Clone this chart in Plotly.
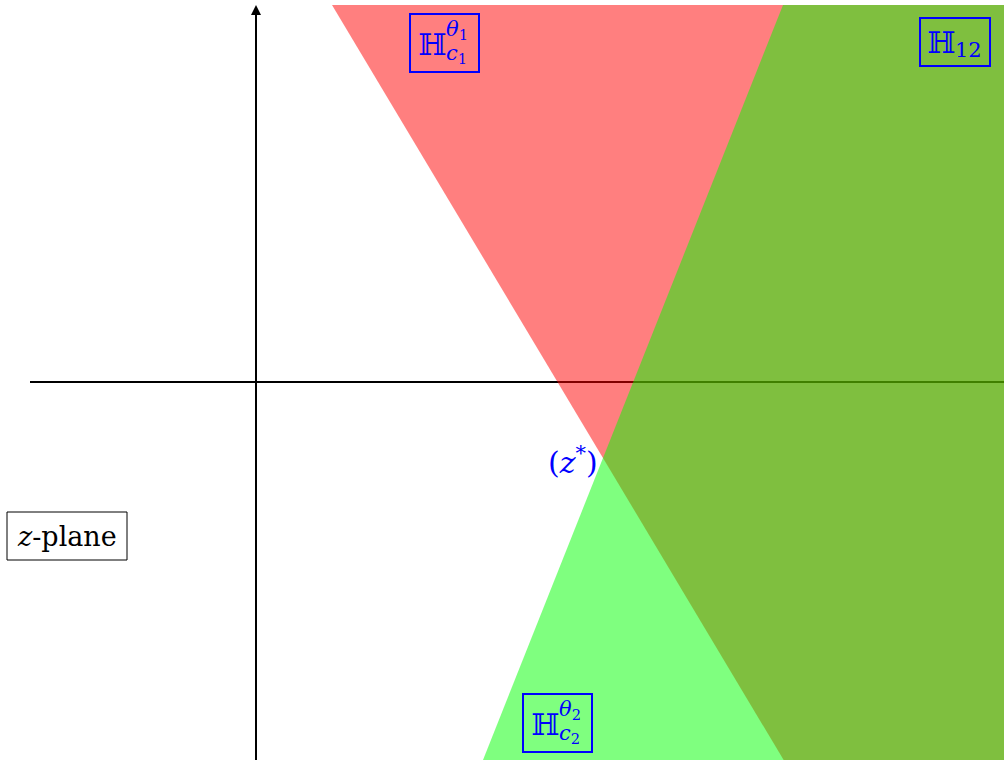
import plotly.graph_objects as go

# geometry in units of 100 px, origin at axes crossing
x_range = [-2.56, 7.48]
y_range = [-3.78, 3.77]
z_star = (3.47, -0.76)
red_line_pt = (0.76, 3.77)     # second point on boundary of H_c1
green_line_pt = (5.27, 3.77)   # second point on boundary of H_c2
h_axis_start = -2.26
v_axis_end = 3.77

def half_plane(p, q):
    dx, dy = q[0] - p[0], q[1] - p[1]
    a = (p[0] + 10 * dx, p[1] + 10 * dy)
    b = (p[0] - 10 * dx, p[1] - 10 * dy)
    xs = [a[0], b[0], b[0] + 50, a[0] + 50, a[0]]
    ys = [a[1], b[1], b[1], a[1], a[1]]
    return xs, ys

fig = go.Figure()
# horizontal axis (drawn beneath fills)
fig.add_trace(go.Scatter(x=[h_axis_start, x_range[1] + 1], y=[0, 0], mode="lines",
                         line=dict(color="black", width=2), hoverinfo="skip"))
rx, ry = half_plane(z_star, red_line_pt)
fig.add_trace(go.Scatter(x=rx, y=ry, fill="toself", mode="lines", line=dict(width=0),
                         fillcolor="rgba(255,0,0,0.5)", hoverinfo="skip"))
gx, gy = half_plane(z_star, green_line_pt)
fig.add_trace(go.Scatter(x=gx, y=gy, fill="toself", mode="lines", line=dict(width=0),
                         fillcolor="rgba(0,255,0,0.5)", hoverinfo="skip"))

# vertical axis with arrow
fig.add_annotation(x=0, y=v_axis_end, ax=0, ay=y_range[0] - 0.1, xref="x", yref="y",
                   axref="x", ayref="y", showarrow=True, arrowhead=2, arrowsize=1.0,
                   arrowwidth=2, arrowcolor="black", text="")

serif = "DejaVu Serif"
blue = "#0000ff"

def px(xp):
    return xp / 1004

def py(yp):
    return 1 - (yp - 5) / 755

def boxed_H(x0, y0, x1, y1, hx, sup, sub):
    fig.add_shape(type="rect", xref="paper", yref="paper", x0=px(x0), x1=px(x1),
                  y0=py(y1), y1=py(y0), line=dict(color=blue, width=2))
    fig.add_annotation(xref="paper", yref="paper", x=px(hx), y=py((y0 + y1) / 2 + 1),
                       text="ℍ", showarrow=False, xanchor="center", yanchor="middle",
                       font=dict(family=serif, size=30, color=blue))
    if sup:
        fig.add_annotation(xref="paper", yref="paper", x=px(hx + 12), y=py(y0 + 16),
                           text=sup, showarrow=False, xanchor="left", yanchor="middle",
                           font=dict(family=serif, size=21, color=blue))
    if sub:
        fig.add_annotation(xref="paper", yref="paper", x=px(hx + 12),
                           y=py(y1 - 18 if sup else (y0 + y1) / 2 + 8),
                           text=sub, showarrow=False, xanchor="left", yanchor="middle",
                           font=dict(family=serif, size=21, color=blue))

boxed_H(410, 14, 479, 72, 432, "<i>θ</i><sub>1</sub>", "<i>c</i><sub>1</sub>")
boxed_H(920, 18, 990, 66, 941, None, "12")
boxed_H(523, 694, 592, 752, 545, "<i>θ</i><sub>2</sub>", "<i>c</i><sub>2</sub>")

fig.add_annotation(x=z_star[0], y=z_star[1], xref="x", yref="y", xanchor="right",
                   yanchor="middle", xshift=-3, yshift=-2, showarrow=False,
                   text="(<i>z</i><sup>*</sup>)", font=dict(family=serif, size=30, color=blue))

fig.add_shape(type="rect", xref="paper", yref="paper", x0=px(7), x1=px(127),
              y0=py(560), y1=py(512), line=dict(color="black", width=1))
fig.add_annotation(xref="paper", yref="paper", x=px(67), y=py(536), showarrow=False,
                   xanchor="center", yanchor="middle",
                   text="<i>z</i>-plane", font=dict(family=serif, size=27, color="black"))

fig.update_layout(width=1004, height=760, margin=dict(l=0, r=0, t=5, b=0),
                  plot_bgcolor="white", paper_bgcolor="white", showlegend=False,
                  xaxis=dict(range=x_range, visible=False, fixedrange=True),
                  yaxis=dict(range=y_range, visible=False, fixedrange=True))
fig.write_html("out.html", config={"displayModeBar": False},
               post_script="document.body.style.margin='0';")
